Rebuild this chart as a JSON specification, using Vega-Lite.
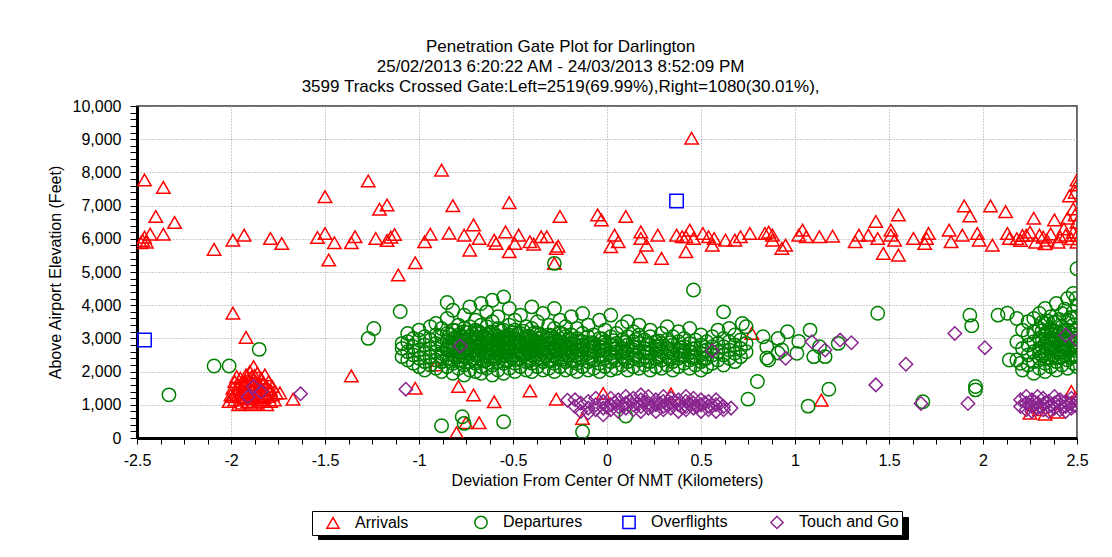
{
"$schema": "https://vega.github.io/schema/vega-lite/v6.json",
"width": 940, "height": 332,
"autosize": {"type": "none"},
"padding": {"left": 137, "top": 106, "right": 35, "bottom": 119},
"background": "white",
"title": {"text": ["Penetration Gate Plot for Darlington", "25/02/2013 6:20:22 AM - 24/03/2013 8:52:09 PM", "3599 Tracks Crossed Gate:Left=2519(69.99%),Right=1080(30.01%),"], "font": "Liberation Sans", "fontSize": 17, "fontWeight": "normal", "color": "black", "lineHeight": 20, "anchor": "middle", "frame": "bounds", "offset": 2, "dx": -7},
"data": {"values": [
{"x":-2.46,"y":7770,"type":"Arrivals"},{"x":-2.36,"y":7550,"type":"Arrivals"},{"x":-2.40,"y":6670,"type":"Arrivals"},{"x":-2.30,"y":6490,"type":"Arrivals"},{"x":-2.43,"y":6140,"type":"Arrivals"},{"x":-2.36,"y":6140,"type":"Arrivals"},{"x":-2.47,"y":5950,"type":"Arrivals"},{"x":-2.46,"y":6050,"type":"Arrivals"},{"x":-2.48,"y":5880,"type":"Arrivals"},{"x":-2.45,"y":5900,"type":"Arrivals"},
{"x":-2.09,"y":5680,"type":"Arrivals"},{"x":-1.99,"y":5960,"type":"Arrivals"},{"x":-1.93,"y":6110,"type":"Arrivals"},{"x":-1.79,"y":6010,"type":"Arrivals"},{"x":-1.73,"y":5860,"type":"Arrivals"},{"x":-1.54,"y":6040,"type":"Arrivals"},{"x":-1.50,"y":6160,"type":"Arrivals"},{"x":-1.50,"y":7270,"type":"Arrivals"},{"x":-1.48,"y":5360,"type":"Arrivals"},{"x":-1.45,"y":5880,"type":"Arrivals"},
{"x":-1.36,"y":5880,"type":"Arrivals"},{"x":-1.34,"y":6060,"type":"Arrivals"},{"x":-1.27,"y":7740,"type":"Arrivals"},{"x":-1.23,"y":6010,"type":"Arrivals"},{"x":-1.21,"y":6890,"type":"Arrivals"},{"x":-1.17,"y":7020,"type":"Arrivals"},{"x":-1.17,"y":5950,"type":"Arrivals"},{"x":-1.15,"y":6050,"type":"Arrivals"},{"x":-1.13,"y":6130,"type":"Arrivals"},{"x":-1.11,"y":4910,"type":"Arrivals"},
{"x":-1.02,"y":5280,"type":"Arrivals"},{"x":-0.97,"y":5910,"type":"Arrivals"},{"x":-0.94,"y":6140,"type":"Arrivals"},{"x":-0.88,"y":8070,"type":"Arrivals"},{"x":-0.84,"y":6170,"type":"Arrivals"},{"x":-0.82,"y":7000,"type":"Arrivals"},{"x":-0.76,"y":6110,"type":"Arrivals"},{"x":-0.71,"y":6420,"type":"Arrivals"},{"x":-0.68,"y":6010,"type":"Arrivals"},{"x":-0.73,"y":5660,"type":"Arrivals"},
{"x":-0.60,"y":5960,"type":"Arrivals"},{"x":-0.59,"y":5860,"type":"Arrivals"},{"x":-0.54,"y":6210,"type":"Arrivals"},{"x":-0.52,"y":5610,"type":"Arrivals"},{"x":-0.52,"y":7090,"type":"Arrivals"},{"x":-0.47,"y":6110,"type":"Arrivals"},{"x":-0.49,"y":5860,"type":"Arrivals"},{"x":-0.41,"y":5910,"type":"Arrivals"},{"x":-0.39,"y":5840,"type":"Arrivals"},{"x":-0.35,"y":6060,"type":"Arrivals"},
{"x":-0.32,"y":6060,"type":"Arrivals"},{"x":-0.25,"y":6670,"type":"Arrivals"},{"x":-0.27,"y":5710,"type":"Arrivals"},{"x":-0.26,"y":5780,"type":"Arrivals"},{"x":-0.28,"y":5260,"type":"Arrivals"},{"x":-0.05,"y":6720,"type":"Arrivals"},{"x":-0.03,"y":6570,"type":"Arrivals"},{"x":0.10,"y":6670,"type":"Arrivals"},{"x":0.04,"y":6110,"type":"Arrivals"},{"x":0.06,"y":5910,"type":"Arrivals"},
{"x":0.02,"y":5760,"type":"Arrivals"},{"x":0.18,"y":6210,"type":"Arrivals"},{"x":0.18,"y":6010,"type":"Arrivals"},{"x":0.21,"y":5810,"type":"Arrivals"},{"x":0.18,"y":5460,"type":"Arrivals"},{"x":0.27,"y":6110,"type":"Arrivals"},{"x":0.29,"y":5410,"type":"Arrivals"},{"x":0.45,"y":9030,"type":"Arrivals"},{"x":0.37,"y":6110,"type":"Arrivals"},{"x":0.40,"y":6060,"type":"Arrivals"},
{"x":0.44,"y":6260,"type":"Arrivals"},{"x":0.42,"y":6060,"type":"Arrivals"},{"x":0.42,"y":5610,"type":"Arrivals"},{"x":0.46,"y":6010,"type":"Arrivals"},{"x":0.51,"y":6160,"type":"Arrivals"},{"x":0.54,"y":6060,"type":"Arrivals"},{"x":0.57,"y":6010,"type":"Arrivals"},{"x":0.63,"y":5960,"type":"Arrivals"},{"x":0.56,"y":5810,"type":"Arrivals"},{"x":0.68,"y":5960,"type":"Arrivals"},
{"x":0.71,"y":6060,"type":"Arrivals"},{"x":0.76,"y":6160,"type":"Arrivals"},{"x":0.84,"y":6160,"type":"Arrivals"},{"x":0.88,"y":6110,"type":"Arrivals"},{"x":0.88,"y":5960,"type":"Arrivals"},{"x":0.93,"y":5710,"type":"Arrivals"},{"x":0.95,"y":5810,"type":"Arrivals"},{"x":0.86,"y":6200,"type":"Arrivals"},{"x":1.02,"y":6110,"type":"Arrivals"},{"x":1.04,"y":6260,"type":"Arrivals"},
{"x":1.06,"y":6060,"type":"Arrivals"},{"x":1.13,"y":6060,"type":"Arrivals"},{"x":1.20,"y":6080,"type":"Arrivals"},{"x":1.32,"y":5910,"type":"Arrivals"},{"x":1.34,"y":6110,"type":"Arrivals"},{"x":1.39,"y":6110,"type":"Arrivals"},{"x":1.43,"y":6520,"type":"Arrivals"},{"x":1.44,"y":6010,"type":"Arrivals"},{"x":1.51,"y":6260,"type":"Arrivals"},{"x":1.51,"y":6110,"type":"Arrivals"},
{"x":1.55,"y":6720,"type":"Arrivals"},{"x":1.53,"y":5960,"type":"Arrivals"},{"x":1.47,"y":5560,"type":"Arrivals"},{"x":1.55,"y":5510,"type":"Arrivals"},{"x":1.63,"y":6010,"type":"Arrivals"},{"x":1.69,"y":5860,"type":"Arrivals"},{"x":1.71,"y":6160,"type":"Arrivals"},{"x":1.70,"y":6010,"type":"Arrivals"},{"x":1.82,"y":6260,"type":"Arrivals"},{"x":1.83,"y":5910,"type":"Arrivals"},
{"x":1.89,"y":6110,"type":"Arrivals"},{"x":1.90,"y":6990,"type":"Arrivals"},{"x":1.93,"y":6690,"type":"Arrivals"},{"x":1.97,"y":6160,"type":"Arrivals"},{"x":1.98,"y":5960,"type":"Arrivals"},{"x":2.04,"y":6990,"type":"Arrivals"},{"x":2.05,"y":5810,"type":"Arrivals"},{"x":2.12,"y":6820,"type":"Arrivals"},{"x":2.13,"y":6160,"type":"Arrivals"},{"x":2.14,"y":6010,"type":"Arrivals"},
{"x":2.18,"y":6000,"type":"Arrivals"},{"x":2.20,"y":5950,"type":"Arrivals"},{"x":2.21,"y":6100,"type":"Arrivals"},{"x":2.23,"y":6110,"type":"Arrivals"},{"x":2.25,"y":6200,"type":"Arrivals"},{"x":2.27,"y":6620,"type":"Arrivals"},{"x":2.28,"y":5900,"type":"Arrivals"},{"x":2.30,"y":6110,"type":"Arrivals"},{"x":2.32,"y":6050,"type":"Arrivals"},{"x":2.33,"y":5850,"type":"Arrivals"},
{"x":2.34,"y":5960,"type":"Arrivals"},{"x":2.36,"y":6150,"type":"Arrivals"},{"x":2.38,"y":6570,"type":"Arrivals"},{"x":2.40,"y":5900,"type":"Arrivals"},{"x":2.41,"y":6060,"type":"Arrivals"},{"x":2.43,"y":6300,"type":"Arrivals"},{"x":2.44,"y":6110,"type":"Arrivals"},{"x":2.45,"y":6620,"type":"Arrivals"},{"x":2.46,"y":7290,"type":"Arrivals"},{"x":2.47,"y":6000,"type":"Arrivals"},
{"x":2.48,"y":6200,"type":"Arrivals"},{"x":2.49,"y":6720,"type":"Arrivals"},{"x":2.50,"y":7620,"type":"Arrivals"},{"x":2.50,"y":7770,"type":"Arrivals"},{"x":2.49,"y":7400,"type":"Arrivals"},{"x":2.50,"y":6100,"type":"Arrivals"},{"x":2.50,"y":5900,"type":"Arrivals"},{"x":2.50,"y":6500,"type":"Arrivals"},{"x":2.48,"y":6900,"type":"Arrivals"},
{"x":-1.99,"y":3760,"type":"Arrivals"},{"x":-1.92,"y":3030,"type":"Arrivals"},{"x":-1.74,"y":1360,"type":"Arrivals"},{"x":-1.67,"y":1170,"type":"Arrivals"},{"x":-1.36,"y":1870,"type":"Arrivals"},{"x":-1.02,"y":1500,"type":"Arrivals"},{"x":-0.91,"y":2200,"type":"Arrivals"},{"x":-0.79,"y":1550,"type":"Arrivals"},{"x":-0.71,"y":1300,"type":"Arrivals"},{"x":-0.60,"y":1090,"type":"Arrivals"},
{"x":-0.41,"y":1420,"type":"Arrivals"},{"x":-0.27,"y":1170,"type":"Arrivals"},{"x":-0.80,"y":160,"type":"Arrivals"},{"x":-0.75,"y":460,"type":"Arrivals"},{"x":-0.68,"y":460,"type":"Arrivals"},{"x":-0.13,"y":590,"type":"Arrivals"},{"x":-0.02,"y":1340,"type":"Arrivals"},{"x":0.34,"y":1330,"type":"Arrivals"},{"x":0.77,"y":3150,"type":"Arrivals"},{"x":1.14,"y":1140,"type":"Arrivals"},
{"x":2.25,"y":750,"type":"Arrivals"},{"x":2.33,"y":720,"type":"Arrivals"},{"x":2.40,"y":780,"type":"Arrivals"},{"x":2.47,"y":1400,"type":"Arrivals"},{"x":2.49,"y":1200,"type":"Arrivals"},{"x":2.30,"y":850,"type":"Arrivals"},
{"x":-2.01,"y":1100,"type":"Arrivals"},{"x":-2.00,"y":1300,"type":"Arrivals"},{"x":-1.99,"y":1500,"type":"Arrivals"},{"x":-1.98,"y":1700,"type":"Arrivals"},{"x":-1.98,"y":1150,"type":"Arrivals"},{"x":-1.97,"y":1350,"type":"Arrivals"},{"x":-1.96,"y":1600,"type":"Arrivals"},{"x":-1.96,"y":1000,"type":"Arrivals"},{"x":-1.95,"y":1250,"type":"Arrivals"},{"x":-1.95,"y":1800,"type":"Arrivals"},
{"x":-1.94,"y":1450,"type":"Arrivals"},{"x":-1.94,"y":1050,"type":"Arrivals"},{"x":-1.93,"y":1650,"type":"Arrivals"},{"x":-1.93,"y":1200,"type":"Arrivals"},{"x":-1.92,"y":1900,"type":"Arrivals"},{"x":-1.92,"y":1400,"type":"Arrivals"},{"x":-1.91,"y":1100,"type":"Arrivals"},{"x":-1.91,"y":1750,"type":"Arrivals"},{"x":-1.90,"y":1550,"type":"Arrivals"},{"x":-1.90,"y":1300,"type":"Arrivals"},
{"x":-1.90,"y":2000,"type":"Arrivals"},{"x":-1.89,"y":1000,"type":"Arrivals"},{"x":-1.89,"y":1850,"type":"Arrivals"},{"x":-1.88,"y":1450,"type":"Arrivals"},{"x":-1.88,"y":2150,"type":"Arrivals"},{"x":-1.88,"y":1200,"type":"Arrivals"},{"x":-1.87,"y":1700,"type":"Arrivals"},{"x":-1.87,"y":1350,"type":"Arrivals"},{"x":-1.86,"y":1950,"type":"Arrivals"},{"x":-1.86,"y":1050,"type":"Arrivals"},
{"x":-1.85,"y":1600,"type":"Arrivals"},{"x":-1.85,"y":1250,"type":"Arrivals"},{"x":-1.84,"y":1800,"type":"Arrivals"},{"x":-1.84,"y":1450,"type":"Arrivals"},{"x":-1.83,"y":1100,"type":"Arrivals"},{"x":-1.83,"y":1650,"type":"Arrivals"},{"x":-1.82,"y":1350,"type":"Arrivals"},{"x":-1.82,"y":1900,"type":"Arrivals"},{"x":-1.81,"y":1550,"type":"Arrivals"},{"x":-1.81,"y":1000,"type":"Arrivals"},
{"x":-1.80,"y":1250,"type":"Arrivals"},{"x":-1.80,"y":1700,"type":"Arrivals"},{"x":-1.79,"y":1450,"type":"Arrivals"},{"x":-1.79,"y":1100,"type":"Arrivals"},{"x":-1.78,"y":1300,"type":"Arrivals"},{"x":-1.78,"y":1550,"type":"Arrivals"},{"x":-1.77,"y":1150,"type":"Arrivals"},{"x":-1.76,"y":1350,"type":"Arrivals"},{"x":-1.97,"y":1850,"type":"Arrivals"},{"x":-1.93,"y":1550,"type":"Arrivals"},
{"x":-1.87,"y":1550,"type":"Arrivals"},{"x":-1.84,"y":1150,"type":"Arrivals"},{"x":-1.89,"y":1700,"type":"Arrivals"},{"x":-1.95,"y":1400,"type":"Arrivals"},{"x":-1.99,"y":1250,"type":"Arrivals"},
{"x":-1.965,"y":1480,"type":"Arrivals"},{"x":-1.945,"y":1320,"type":"Arrivals"},{"x":-1.925,"y":1730,"type":"Arrivals"},{"x":-1.905,"y":1180,"type":"Arrivals"},{"x":-1.885,"y":1620,"type":"Arrivals"},{"x":-1.865,"y":1280,"type":"Arrivals"},{"x":-1.845,"y":1560,"type":"Arrivals"},{"x":-1.825,"y":1220,"type":"Arrivals"},{"x":-1.805,"y":1480,"type":"Arrivals"},{"x":-1.875,"y":1880,"type":"Arrivals"},

{"x":-2.33,"y":1300,"type":"Departures"},{"x":-2.09,"y":2170,"type":"Departures"},{"x":-2.01,"y":2170,"type":"Departures"},{"x":-1.85,"y":2670,"type":"Departures"},{"x":-1.27,"y":3000,"type":"Departures"},{"x":-1.24,"y":3300,"type":"Departures"},{"x":-1.10,"y":3810,"type":"Departures"},{"x":-0.85,"y":4080,"type":"Departures"},{"x":-0.88,"y":370,"type":"Departures"},{"x":-0.77,"y":640,"type":"Departures"},
{"x":-0.76,"y":440,"type":"Departures"},{"x":-0.55,"y":490,"type":"Departures"},{"x":-0.13,"y":190,"type":"Departures"},{"x":0.10,"y":660,"type":"Departures"},{"x":0.46,"y":4460,"type":"Departures"},{"x":0.62,"y":3800,"type":"Departures"},{"x":0.72,"y":3450,"type":"Departures"},{"x":0.80,"y":1700,"type":"Departures"},{"x":0.75,"y":1170,"type":"Departures"},{"x":0.85,"y":2410,"type":"Departures"},
{"x":0.85,"y":2750,"type":"Departures"},{"x":0.91,"y":2560,"type":"Departures"},{"x":-0.28,"y":5260,"type":"Departures"},{"x":0.83,"y":3050,"type":"Departures"},{"x":0.86,"y":2350,"type":"Departures"},{"x":0.91,"y":3000,"type":"Departures"},{"x":0.93,"y":2650,"type":"Departures"},{"x":0.96,"y":3200,"type":"Departures"},{"x":1.01,"y":2550,"type":"Departures"},{"x":1.02,"y":2910,"type":"Departures"},
{"x":1.08,"y":3250,"type":"Departures"},{"x":1.10,"y":2450,"type":"Departures"},{"x":1.13,"y":2750,"type":"Departures"},{"x":1.16,"y":2450,"type":"Departures"},{"x":1.23,"y":2850,"type":"Departures"},{"x":1.07,"y":960,"type":"Departures"},{"x":1.18,"y":1470,"type":"Departures"},{"x":1.44,"y":3760,"type":"Departures"},{"x":1.68,"y":1090,"type":"Departures"},{"x":1.96,"y":1550,"type":"Departures"},
{"x":1.96,"y":1450,"type":"Departures"},{"x":1.93,"y":3700,"type":"Departures"},{"x":1.94,"y":3380,"type":"Departures"},{"x":2.08,"y":3700,"type":"Departures"},{"x":2.13,"y":3760,"type":"Departures"},{"x":2.18,"y":3600,"type":"Departures"},{"x":2.21,"y":3250,"type":"Departures"},{"x":2.18,"y":2900,"type":"Departures"},{"x":2.18,"y":2350,"type":"Departures"},{"x":2.20,"y":2250,"type":"Departures"},
{"x":2.50,"y":5100,"type":"Departures"},{"x":2.14,"y":2350,"type":"Departures"},{"x":2.21,"y":2700,"type":"Departures"},{"x":2.21,"y":2050,"type":"Departures"},
{"x":-1.09,"y":2450,"type":"Departures"},{"x":-1.09,"y":2700,"type":"Departures"},{"x":-1.09,"y":2850,"type":"Departures"},
{"x":-1.06,"y":2350,"type":"Departures"},{"x":-1.06,"y":2600,"type":"Departures"},{"x":-1.06,"y":2900,"type":"Departures"},{"x":-1.06,"y":3150,"type":"Departures"},
{"x":-1.03,"y":2250,"type":"Departures"},{"x":-1.03,"y":2500,"type":"Departures"},{"x":-1.03,"y":2750,"type":"Departures"},{"x":-1.03,"y":3000,"type":"Departures"},
{"x":-1.00,"y":2150,"type":"Departures"},{"x":-1.00,"y":2400,"type":"Departures"},{"x":-1.00,"y":2650,"type":"Departures"},{"x":-1.00,"y":2950,"type":"Departures"},{"x":-1.00,"y":3250,"type":"Departures"},
{"x":-0.97,"y":2300,"type":"Departures"},{"x":-0.97,"y":2550,"type":"Departures"},{"x":-0.97,"y":2800,"type":"Departures"},{"x":-0.97,"y":3050,"type":"Departures"},{"x":-0.97,"y":2050,"type":"Departures"},
{"x":-0.94,"y":2200,"type":"Departures"},{"x":-0.94,"y":2450,"type":"Departures"},{"x":-0.94,"y":2700,"type":"Departures"},{"x":-0.94,"y":2950,"type":"Departures"},{"x":-0.94,"y":3350,"type":"Departures"},
{"x":-0.91,"y":2100,"type":"Departures"},{"x":-0.91,"y":2350,"type":"Departures"},{"x":-0.91,"y":2600,"type":"Departures"},{"x":-0.91,"y":2850,"type":"Departures"},{"x":-0.91,"y":3100,"type":"Departures"},{"x":-0.91,"y":3450,"type":"Departures"},
{"x":-0.88,"y":2000,"type":"Departures"},{"x":-0.88,"y":2300,"type":"Departures"},{"x":-0.88,"y":2550,"type":"Departures"},{"x":-0.88,"y":2800,"type":"Departures"},{"x":-0.88,"y":3050,"type":"Departures"},{"x":-0.88,"y":3300,"type":"Departures"},{"x":-0.88,"y":2450,"type":"Departures"},
{"x":-0.85,"y":2150,"type":"Departures"},{"x":-0.85,"y":2400,"type":"Departures"},{"x":-0.85,"y":2650,"type":"Departures"},{"x":-0.85,"y":2900,"type":"Departures"},{"x":-0.85,"y":3150,"type":"Departures"},{"x":-0.85,"y":3600,"type":"Departures"},{"x":-0.85,"y":2700,"type":"Departures"},
{"x":-0.82,"y":1950,"type":"Departures"},{"x":-0.82,"y":2250,"type":"Departures"},{"x":-0.82,"y":2500,"type":"Departures"},{"x":-0.82,"y":2750,"type":"Departures"},{"x":-0.82,"y":3000,"type":"Departures"},{"x":-0.82,"y":3250,"type":"Departures"},{"x":-0.82,"y":3850,"type":"Departures"},{"x":-0.82,"y":2850,"type":"Departures"},
{"x":-0.79,"y":2100,"type":"Departures"},{"x":-0.79,"y":2350,"type":"Departures"},{"x":-0.79,"y":2600,"type":"Departures"},{"x":-0.79,"y":2850,"type":"Departures"},{"x":-0.79,"y":3100,"type":"Departures"},{"x":-0.79,"y":3400,"type":"Departures"},{"x":-0.79,"y":2450,"type":"Departures"},{"x":-0.79,"y":2950,"type":"Departures"},
{"x":-0.76,"y":1900,"type":"Departures"},{"x":-0.76,"y":2200,"type":"Departures"},{"x":-0.76,"y":2450,"type":"Departures"},{"x":-0.76,"y":2700,"type":"Departures"},{"x":-0.76,"y":2950,"type":"Departures"},{"x":-0.76,"y":3200,"type":"Departures"},{"x":-0.76,"y":3700,"type":"Departures"},{"x":-0.76,"y":2600,"type":"Departures"},{"x":-0.76,"y":3300,"type":"Departures"},
{"x":-0.73,"y":2050,"type":"Departures"},{"x":-0.73,"y":2300,"type":"Departures"},{"x":-0.73,"y":2550,"type":"Departures"},{"x":-0.73,"y":2800,"type":"Departures"},{"x":-0.73,"y":3050,"type":"Departures"},{"x":-0.73,"y":3350,"type":"Departures"},{"x":-0.73,"y":3950,"type":"Departures"},{"x":-0.73,"y":2700,"type":"Departures"},
{"x":-0.70,"y":2000,"type":"Departures"},{"x":-0.70,"y":2250,"type":"Departures"},{"x":-0.70,"y":2500,"type":"Departures"},{"x":-0.70,"y":2750,"type":"Departures"},{"x":-0.70,"y":3000,"type":"Departures"},{"x":-0.70,"y":3250,"type":"Departures"},{"x":-0.70,"y":3550,"type":"Departures"},{"x":-0.70,"y":2650,"type":"Departures"},{"x":-0.70,"y":2900,"type":"Departures"},
{"x":-0.67,"y":1950,"type":"Departures"},{"x":-0.67,"y":2150,"type":"Departures"},{"x":-0.67,"y":2400,"type":"Departures"},{"x":-0.67,"y":2650,"type":"Departures"},{"x":-0.67,"y":2900,"type":"Departures"},{"x":-0.67,"y":3150,"type":"Departures"},{"x":-0.67,"y":3400,"type":"Departures"},{"x":-0.67,"y":4050,"type":"Departures"},{"x":-0.67,"y":2800,"type":"Departures"},
{"x":-0.64,"y":2100,"type":"Departures"},{"x":-0.64,"y":2350,"type":"Departures"},{"x":-0.64,"y":2600,"type":"Departures"},{"x":-0.64,"y":2850,"type":"Departures"},{"x":-0.64,"y":3100,"type":"Departures"},{"x":-0.64,"y":3350,"type":"Departures"},{"x":-0.64,"y":3800,"type":"Departures"},{"x":-0.64,"y":2500,"type":"Departures"},{"x":-0.64,"y":3000,"type":"Departures"},
{"x":-0.61,"y":1900,"type":"Departures"},{"x":-0.61,"y":2200,"type":"Departures"},{"x":-0.61,"y":2450,"type":"Departures"},{"x":-0.61,"y":2700,"type":"Departures"},{"x":-0.61,"y":2950,"type":"Departures"},{"x":-0.61,"y":3200,"type":"Departures"},{"x":-0.61,"y":3500,"type":"Departures"},{"x":-0.61,"y":4150,"type":"Departures"},{"x":-0.61,"y":2800,"type":"Departures"},
{"x":-0.58,"y":2050,"type":"Departures"},{"x":-0.58,"y":2300,"type":"Departures"},{"x":-0.58,"y":2550,"type":"Departures"},{"x":-0.58,"y":2800,"type":"Departures"},{"x":-0.58,"y":3050,"type":"Departures"},{"x":-0.58,"y":3300,"type":"Departures"},{"x":-0.58,"y":3650,"type":"Departures"},{"x":-0.58,"y":2650,"type":"Departures"},{"x":-0.58,"y":2950,"type":"Departures"},
{"x":-0.55,"y":1950,"type":"Departures"},{"x":-0.55,"y":2250,"type":"Departures"},{"x":-0.55,"y":2500,"type":"Departures"},{"x":-0.55,"y":2750,"type":"Departures"},{"x":-0.55,"y":3000,"type":"Departures"},{"x":-0.55,"y":3250,"type":"Departures"},{"x":-0.55,"y":4250,"type":"Departures"},{"x":-0.55,"y":2600,"type":"Departures"},{"x":-0.55,"y":2850,"type":"Departures"},
{"x":-0.52,"y":2100,"type":"Departures"},{"x":-0.52,"y":2350,"type":"Departures"},{"x":-0.52,"y":2600,"type":"Departures"},{"x":-0.52,"y":2850,"type":"Departures"},{"x":-0.52,"y":3100,"type":"Departures"},{"x":-0.52,"y":3400,"type":"Departures"},{"x":-0.52,"y":3900,"type":"Departures"},{"x":-0.52,"y":2700,"type":"Departures"},{"x":-0.52,"y":3000,"type":"Departures"},
{"x":-0.49,"y":2000,"type":"Departures"},{"x":-0.49,"y":2250,"type":"Departures"},{"x":-0.49,"y":2500,"type":"Departures"},{"x":-0.49,"y":2750,"type":"Departures"},{"x":-0.49,"y":3000,"type":"Departures"},{"x":-0.49,"y":3250,"type":"Departures"},{"x":-0.49,"y":3550,"type":"Departures"},{"x":-0.49,"y":2900,"type":"Departures"},
{"x":-0.46,"y":2150,"type":"Departures"},{"x":-0.46,"y":2400,"type":"Departures"},{"x":-0.46,"y":2650,"type":"Departures"},{"x":-0.46,"y":2900,"type":"Departures"},{"x":-0.46,"y":3150,"type":"Departures"},{"x":-0.46,"y":3700,"type":"Departures"},{"x":-0.46,"y":2550,"type":"Departures"},{"x":-0.46,"y":2800,"type":"Departures"},
{"x":-0.43,"y":2050,"type":"Departures"},{"x":-0.43,"y":2300,"type":"Departures"},{"x":-0.43,"y":2550,"type":"Departures"},{"x":-0.43,"y":2800,"type":"Departures"},{"x":-0.43,"y":3050,"type":"Departures"},{"x":-0.43,"y":3350,"type":"Departures"},{"x":-0.43,"y":2700,"type":"Departures"},{"x":-0.43,"y":2950,"type":"Departures"},
{"x":-0.40,"y":2000,"type":"Departures"},{"x":-0.40,"y":2250,"type":"Departures"},{"x":-0.40,"y":2500,"type":"Departures"},{"x":-0.40,"y":2750,"type":"Departures"},{"x":-0.40,"y":3000,"type":"Departures"},{"x":-0.40,"y":3300,"type":"Departures"},{"x":-0.40,"y":3950,"type":"Departures"},{"x":-0.40,"y":2650,"type":"Departures"},
{"x":-0.37,"y":2150,"type":"Departures"},{"x":-0.37,"y":2400,"type":"Departures"},{"x":-0.37,"y":2650,"type":"Departures"},{"x":-0.37,"y":2900,"type":"Departures"},{"x":-0.37,"y":3150,"type":"Departures"},{"x":-0.37,"y":3500,"type":"Departures"},{"x":-0.37,"y":2800,"type":"Departures"},{"x":-0.37,"y":3000,"type":"Departures"},
{"x":-0.34,"y":2050,"type":"Departures"},{"x":-0.34,"y":2300,"type":"Departures"},{"x":-0.34,"y":2550,"type":"Departures"},{"x":-0.34,"y":2800,"type":"Departures"},{"x":-0.34,"y":3050,"type":"Departures"},{"x":-0.34,"y":3750,"type":"Departures"},{"x":-0.34,"y":2700,"type":"Departures"},
{"x":-0.31,"y":2100,"type":"Departures"},{"x":-0.31,"y":2350,"type":"Departures"},{"x":-0.31,"y":2600,"type":"Departures"},{"x":-0.31,"y":2850,"type":"Departures"},{"x":-0.31,"y":3100,"type":"Departures"},{"x":-0.31,"y":3400,"type":"Departures"},{"x":-0.31,"y":2950,"type":"Departures"},
{"x":-0.28,"y":2000,"type":"Departures"},{"x":-0.28,"y":2250,"type":"Departures"},{"x":-0.28,"y":2500,"type":"Departures"},{"x":-0.28,"y":2750,"type":"Departures"},{"x":-0.28,"y":3000,"type":"Departures"},{"x":-0.28,"y":3300,"type":"Departures"},{"x":-0.28,"y":3900,"type":"Departures"},{"x":-0.28,"y":2650,"type":"Departures"},
{"x":-0.25,"y":2150,"type":"Departures"},{"x":-0.25,"y":2400,"type":"Departures"},{"x":-0.25,"y":2650,"type":"Departures"},{"x":-0.25,"y":2900,"type":"Departures"},{"x":-0.25,"y":3150,"type":"Departures"},{"x":-0.25,"y":2800,"type":"Departures"},{"x":-0.25,"y":3550,"type":"Departures"},
{"x":-0.22,"y":2050,"type":"Departures"},{"x":-0.22,"y":2300,"type":"Departures"},{"x":-0.22,"y":2550,"type":"Departures"},{"x":-0.22,"y":2800,"type":"Departures"},{"x":-0.22,"y":3050,"type":"Departures"},{"x":-0.22,"y":3350,"type":"Departures"},{"x":-0.22,"y":2700,"type":"Departures"},
{"x":-0.19,"y":2100,"type":"Departures"},{"x":-0.19,"y":2350,"type":"Departures"},{"x":-0.19,"y":2600,"type":"Departures"},{"x":-0.19,"y":2850,"type":"Departures"},{"x":-0.19,"y":3100,"type":"Departures"},{"x":-0.19,"y":3650,"type":"Departures"},{"x":-0.19,"y":2950,"type":"Departures"},
{"x":-0.16,"y":2000,"type":"Departures"},{"x":-0.16,"y":2250,"type":"Departures"},{"x":-0.16,"y":2500,"type":"Departures"},{"x":-0.16,"y":2750,"type":"Departures"},{"x":-0.16,"y":3000,"type":"Departures"},{"x":-0.16,"y":3300,"type":"Departures"},{"x":-0.16,"y":2650,"type":"Departures"},
{"x":-0.13,"y":2150,"type":"Departures"},{"x":-0.13,"y":2400,"type":"Departures"},{"x":-0.13,"y":2650,"type":"Departures"},{"x":-0.13,"y":2900,"type":"Departures"},{"x":-0.13,"y":3150,"type":"Departures"},{"x":-0.13,"y":3750,"type":"Departures"},{"x":-0.13,"y":2800,"type":"Departures"},
{"x":-0.10,"y":2050,"type":"Departures"},{"x":-0.10,"y":2300,"type":"Departures"},{"x":-0.10,"y":2550,"type":"Departures"},{"x":-0.10,"y":2800,"type":"Departures"},{"x":-0.10,"y":3050,"type":"Departures"},{"x":-0.10,"y":3400,"type":"Departures"},
{"x":-0.07,"y":2100,"type":"Departures"},{"x":-0.07,"y":2350,"type":"Departures"},{"x":-0.07,"y":2600,"type":"Departures"},{"x":-0.07,"y":2850,"type":"Departures"},{"x":-0.07,"y":3100,"type":"Departures"},{"x":-0.07,"y":2750,"type":"Departures"},
{"x":-0.04,"y":2000,"type":"Departures"},{"x":-0.04,"y":2250,"type":"Departures"},{"x":-0.04,"y":2500,"type":"Departures"},{"x":-0.04,"y":2750,"type":"Departures"},{"x":-0.04,"y":3000,"type":"Departures"},{"x":-0.04,"y":3550,"type":"Departures"},{"x":-0.04,"y":2650,"type":"Departures"},
{"x":-0.01,"y":2150,"type":"Departures"},{"x":-0.01,"y":2400,"type":"Departures"},{"x":-0.01,"y":2650,"type":"Departures"},{"x":-0.01,"y":2900,"type":"Departures"},{"x":-0.01,"y":3250,"type":"Departures"},{"x":-0.01,"y":2800,"type":"Departures"},
{"x":0.02,"y":2050,"type":"Departures"},{"x":0.02,"y":2300,"type":"Departures"},{"x":0.02,"y":2550,"type":"Departures"},{"x":0.02,"y":2800,"type":"Departures"},{"x":0.02,"y":3050,"type":"Departures"},{"x":0.02,"y":3700,"type":"Departures"},
{"x":0.05,"y":2100,"type":"Departures"},{"x":0.05,"y":2350,"type":"Departures"},{"x":0.05,"y":2600,"type":"Departures"},{"x":0.05,"y":2850,"type":"Departures"},{"x":0.05,"y":3150,"type":"Departures"},{"x":0.05,"y":2700,"type":"Departures"},
{"x":0.08,"y":2200,"type":"Departures"},{"x":0.08,"y":2450,"type":"Departures"},{"x":0.08,"y":2700,"type":"Departures"},{"x":0.08,"y":2950,"type":"Departures"},{"x":0.08,"y":3350,"type":"Departures"},{"x":0.08,"y":2600,"type":"Departures"},
{"x":0.11,"y":2050,"type":"Departures"},{"x":0.11,"y":2300,"type":"Departures"},{"x":0.11,"y":2550,"type":"Departures"},{"x":0.11,"y":2800,"type":"Departures"},{"x":0.11,"y":3050,"type":"Departures"},{"x":0.11,"y":3500,"type":"Departures"},
{"x":0.14,"y":2150,"type":"Departures"},{"x":0.14,"y":2400,"type":"Departures"},{"x":0.14,"y":2650,"type":"Departures"},{"x":0.14,"y":2900,"type":"Departures"},{"x":0.14,"y":3200,"type":"Departures"},{"x":0.14,"y":2750,"type":"Departures"},
{"x":0.17,"y":2100,"type":"Departures"},{"x":0.17,"y":2350,"type":"Departures"},{"x":0.17,"y":2600,"type":"Departures"},{"x":0.17,"y":2850,"type":"Departures"},{"x":0.17,"y":3100,"type":"Departures"},{"x":0.17,"y":3400,"type":"Departures"},
{"x":0.20,"y":2200,"type":"Departures"},{"x":0.20,"y":2450,"type":"Departures"},{"x":0.20,"y":2700,"type":"Departures"},{"x":0.20,"y":2950,"type":"Departures"},{"x":0.20,"y":2600,"type":"Departures"},
{"x":0.23,"y":2050,"type":"Departures"},{"x":0.23,"y":2300,"type":"Departures"},{"x":0.23,"y":2550,"type":"Departures"},{"x":0.23,"y":2800,"type":"Departures"},{"x":0.23,"y":3050,"type":"Departures"},{"x":0.23,"y":3250,"type":"Departures"},
{"x":0.26,"y":2150,"type":"Departures"},{"x":0.26,"y":2400,"type":"Departures"},{"x":0.26,"y":2650,"type":"Departures"},{"x":0.26,"y":2900,"type":"Departures"},{"x":0.26,"y":2750,"type":"Departures"},
{"x":0.29,"y":2100,"type":"Departures"},{"x":0.29,"y":2350,"type":"Departures"},{"x":0.29,"y":2600,"type":"Departures"},{"x":0.29,"y":2850,"type":"Departures"},{"x":0.29,"y":3150,"type":"Departures"},
{"x":0.32,"y":2200,"type":"Departures"},{"x":0.32,"y":2450,"type":"Departures"},{"x":0.32,"y":2700,"type":"Departures"},{"x":0.32,"y":2950,"type":"Departures"},{"x":0.32,"y":3350,"type":"Departures"},
{"x":0.35,"y":2050,"type":"Departures"},{"x":0.35,"y":2300,"type":"Departures"},{"x":0.35,"y":2550,"type":"Departures"},{"x":0.35,"y":2800,"type":"Departures"},{"x":0.35,"y":3050,"type":"Departures"},
{"x":0.38,"y":2150,"type":"Departures"},{"x":0.38,"y":2400,"type":"Departures"},{"x":0.38,"y":2650,"type":"Departures"},{"x":0.38,"y":2900,"type":"Departures"},{"x":0.38,"y":3200,"type":"Departures"},
{"x":0.41,"y":2250,"type":"Departures"},{"x":0.41,"y":2500,"type":"Departures"},{"x":0.41,"y":2750,"type":"Departures"},{"x":0.41,"y":3000,"type":"Departures"},{"x":0.41,"y":2600,"type":"Departures"},
{"x":0.44,"y":2100,"type":"Departures"},{"x":0.44,"y":2350,"type":"Departures"},{"x":0.44,"y":2600,"type":"Departures"},{"x":0.44,"y":2850,"type":"Departures"},{"x":0.44,"y":3300,"type":"Departures"},
{"x":0.47,"y":2200,"type":"Departures"},{"x":0.47,"y":2450,"type":"Departures"},{"x":0.47,"y":2700,"type":"Departures"},{"x":0.47,"y":2950,"type":"Departures"},
{"x":0.50,"y":2300,"type":"Departures"},{"x":0.50,"y":2550,"type":"Departures"},{"x":0.50,"y":2800,"type":"Departures"},{"x":0.50,"y":3100,"type":"Departures"},{"x":0.50,"y":2050,"type":"Departures"},
{"x":0.53,"y":2150,"type":"Departures"},{"x":0.53,"y":2400,"type":"Departures"},{"x":0.53,"y":2650,"type":"Departures"},{"x":0.53,"y":2900,"type":"Departures"},
{"x":0.56,"y":2250,"type":"Departures"},{"x":0.56,"y":2500,"type":"Departures"},{"x":0.56,"y":2750,"type":"Departures"},{"x":0.56,"y":3050,"type":"Departures"},
{"x":0.59,"y":2350,"type":"Departures"},{"x":0.59,"y":2600,"type":"Departures"},{"x":0.59,"y":2850,"type":"Departures"},{"x":0.59,"y":3250,"type":"Departures"},
{"x":0.62,"y":2200,"type":"Departures"},{"x":0.62,"y":2500,"type":"Departures"},{"x":0.62,"y":2750,"type":"Departures"},{"x":0.62,"y":3000,"type":"Departures"},
{"x":0.65,"y":2400,"type":"Departures"},{"x":0.65,"y":2650,"type":"Departures"},{"x":0.65,"y":2900,"type":"Departures"},{"x":0.65,"y":3300,"type":"Departures"},
{"x":0.68,"y":2300,"type":"Departures"},{"x":0.68,"y":2550,"type":"Departures"},{"x":0.68,"y":2800,"type":"Departures"},{"x":0.68,"y":3100,"type":"Departures"},
{"x":0.71,"y":2450,"type":"Departures"},{"x":0.71,"y":2700,"type":"Departures"},{"x":0.71,"y":2950,"type":"Departures"},
{"x":0.74,"y":2600,"type":"Departures"},{"x":0.74,"y":2850,"type":"Departures"},{"x":0.74,"y":3350,"type":"Departures"},
{"x":-0.835,"y":2380,"type":"Departures"},{"x":-0.835,"y":2630,"type":"Departures"},{"x":-0.835,"y":2870,"type":"Departures"},{"x":-0.835,"y":3120,"type":"Departures"},
{"x":-0.805,"y":2470,"type":"Departures"},{"x":-0.805,"y":2720,"type":"Departures"},{"x":-0.805,"y":2980,"type":"Departures"},{"x":-0.805,"y":3230,"type":"Departures"},
{"x":-0.775,"y":2330,"type":"Departures"},{"x":-0.775,"y":2580,"type":"Departures"},{"x":-0.775,"y":2830,"type":"Departures"},{"x":-0.775,"y":3080,"type":"Departures"},
{"x":-0.745,"y":2420,"type":"Departures"},{"x":-0.745,"y":2680,"type":"Departures"},{"x":-0.745,"y":2930,"type":"Departures"},{"x":-0.745,"y":3180,"type":"Departures"},
{"x":-0.715,"y":2370,"type":"Departures"},{"x":-0.715,"y":2620,"type":"Departures"},{"x":-0.715,"y":2880,"type":"Departures"},{"x":-0.715,"y":3130,"type":"Departures"},
{"x":-0.685,"y":2480,"type":"Departures"},{"x":-0.685,"y":2730,"type":"Departures"},{"x":-0.685,"y":2970,"type":"Departures"},{"x":-0.685,"y":3220,"type":"Departures"},
{"x":-0.655,"y":2320,"type":"Departures"},{"x":-0.655,"y":2570,"type":"Departures"},{"x":-0.655,"y":2820,"type":"Departures"},{"x":-0.655,"y":3070,"type":"Departures"},
{"x":-0.625,"y":2430,"type":"Departures"},{"x":-0.625,"y":2670,"type":"Departures"},{"x":-0.625,"y":2920,"type":"Departures"},{"x":-0.625,"y":3170,"type":"Departures"},
{"x":-0.595,"y":2380,"type":"Departures"},{"x":-0.595,"y":2630,"type":"Departures"},{"x":-0.595,"y":2870,"type":"Departures"},{"x":-0.595,"y":3120,"type":"Departures"},
{"x":-0.565,"y":2470,"type":"Departures"},{"x":-0.565,"y":2720,"type":"Departures"},{"x":-0.565,"y":2980,"type":"Departures"},{"x":-0.565,"y":3230,"type":"Departures"},
{"x":-0.535,"y":2330,"type":"Departures"},{"x":-0.535,"y":2580,"type":"Departures"},{"x":-0.535,"y":2830,"type":"Departures"},{"x":-0.535,"y":3080,"type":"Departures"},
{"x":-0.505,"y":2420,"type":"Departures"},{"x":-0.505,"y":2680,"type":"Departures"},{"x":-0.505,"y":2930,"type":"Departures"},{"x":-0.505,"y":3180,"type":"Departures"},
{"x":-0.475,"y":2370,"type":"Departures"},{"x":-0.475,"y":2620,"type":"Departures"},{"x":-0.475,"y":2880,"type":"Departures"},{"x":-0.475,"y":3130,"type":"Departures"},
{"x":-0.445,"y":2480,"type":"Departures"},{"x":-0.445,"y":2730,"type":"Departures"},{"x":-0.445,"y":2970,"type":"Departures"},{"x":-0.445,"y":3220,"type":"Departures"},
{"x":-0.415,"y":2320,"type":"Departures"},{"x":-0.415,"y":2570,"type":"Departures"},{"x":-0.415,"y":2820,"type":"Departures"},{"x":-0.415,"y":3070,"type":"Departures"},
{"x":-0.385,"y":2430,"type":"Departures"},{"x":-0.385,"y":2670,"type":"Departures"},{"x":-0.385,"y":2920,"type":"Departures"},{"x":-0.385,"y":3170,"type":"Departures"},
{"x":-0.355,"y":2380,"type":"Departures"},{"x":-0.355,"y":2630,"type":"Departures"},{"x":-0.355,"y":2870,"type":"Departures"},{"x":-0.355,"y":3120,"type":"Departures"},
{"x":-0.325,"y":2470,"type":"Departures"},{"x":-0.325,"y":2720,"type":"Departures"},{"x":-0.325,"y":2980,"type":"Departures"},
{"x":-0.295,"y":2330,"type":"Departures"},{"x":-0.295,"y":2580,"type":"Departures"},{"x":-0.295,"y":2830,"type":"Departures"},{"x":-0.295,"y":3080,"type":"Departures"},
{"x":-0.265,"y":2420,"type":"Departures"},{"x":-0.265,"y":2680,"type":"Departures"},{"x":-0.265,"y":2930,"type":"Departures"},
{"x":-0.235,"y":2370,"type":"Departures"},{"x":-0.235,"y":2620,"type":"Departures"},{"x":-0.235,"y":2880,"type":"Departures"},{"x":-0.235,"y":3130,"type":"Departures"},
{"x":-0.205,"y":2480,"type":"Departures"},{"x":-0.205,"y":2730,"type":"Departures"},{"x":-0.205,"y":2970,"type":"Departures"},
{"x":-0.175,"y":2320,"type":"Departures"},{"x":-0.175,"y":2570,"type":"Departures"},{"x":-0.175,"y":2820,"type":"Departures"},
{"x":-0.145,"y":2430,"type":"Departures"},{"x":-0.145,"y":2670,"type":"Departures"},{"x":-0.145,"y":2920,"type":"Departures"},
{"x":-0.085,"y":2380,"type":"Departures"},{"x":-0.085,"y":2630,"type":"Departures"},{"x":-0.085,"y":2870,"type":"Departures"},
{"x":-0.025,"y":2470,"type":"Departures"},{"x":-0.025,"y":2720,"type":"Departures"},{"x":-0.025,"y":2980,"type":"Departures"},
{"x":0.035,"y":2420,"type":"Departures"},{"x":0.035,"y":2680,"type":"Departures"},{"x":0.035,"y":2930,"type":"Departures"},
{"x":0.095,"y":2370,"type":"Departures"},{"x":0.095,"y":2620,"type":"Departures"},{"x":0.095,"y":2880,"type":"Departures"},
{"x":0.155,"y":2480,"type":"Departures"},{"x":0.155,"y":2730,"type":"Departures"},{"x":0.155,"y":2970,"type":"Departures"},
{"x":0.215,"y":2320,"type":"Departures"},{"x":0.215,"y":2570,"type":"Departures"},{"x":0.215,"y":2820,"type":"Departures"},
{"x":0.275,"y":2430,"type":"Departures"},{"x":0.275,"y":2670,"type":"Departures"},{"x":0.275,"y":2920,"type":"Departures"},
{"x":0.335,"y":2380,"type":"Departures"},{"x":0.335,"y":2630,"type":"Departures"},{"x":0.335,"y":2870,"type":"Departures"},
{"x":0.395,"y":2470,"type":"Departures"},{"x":0.395,"y":2720,"type":"Departures"},
{"x":0.455,"y":2420,"type":"Departures"},{"x":0.455,"y":2680,"type":"Departures"},
{"x":0.515,"y":2370,"type":"Departures"},{"x":0.515,"y":2620,"type":"Departures"},
{"x":2.24,"y":2200,"type":"Departures"},{"x":2.24,"y":2500,"type":"Departures"},{"x":2.24,"y":2800,"type":"Departures"},{"x":2.24,"y":3100,"type":"Departures"},{"x":2.24,"y":3500,"type":"Departures"},
{"x":2.27,"y":1950,"type":"Departures"},{"x":2.27,"y":2300,"type":"Departures"},{"x":2.27,"y":2600,"type":"Departures"},{"x":2.27,"y":2900,"type":"Departures"},{"x":2.27,"y":3200,"type":"Departures"},{"x":2.27,"y":3600,"type":"Departures"},
{"x":2.30,"y":2100,"type":"Departures"},{"x":2.30,"y":2400,"type":"Departures"},{"x":2.30,"y":2700,"type":"Departures"},{"x":2.30,"y":3000,"type":"Departures"},{"x":2.30,"y":3300,"type":"Departures"},{"x":2.30,"y":3750,"type":"Departures"},{"x":2.30,"y":2550,"type":"Departures"},
{"x":2.33,"y":2000,"type":"Departures"},{"x":2.33,"y":2250,"type":"Departures"},{"x":2.33,"y":2550,"type":"Departures"},{"x":2.33,"y":2850,"type":"Departures"},{"x":2.33,"y":3150,"type":"Departures"},{"x":2.33,"y":3450,"type":"Departures"},{"x":2.33,"y":3900,"type":"Departures"},
{"x":2.36,"y":2150,"type":"Departures"},{"x":2.36,"y":2400,"type":"Departures"},{"x":2.36,"y":2700,"type":"Departures"},{"x":2.36,"y":3000,"type":"Departures"},{"x":2.36,"y":3300,"type":"Departures"},{"x":2.36,"y":3650,"type":"Departures"},{"x":2.36,"y":2850,"type":"Departures"},
{"x":2.39,"y":2050,"type":"Departures"},{"x":2.39,"y":2300,"type":"Departures"},{"x":2.39,"y":2600,"type":"Departures"},{"x":2.39,"y":2900,"type":"Departures"},{"x":2.39,"y":3200,"type":"Departures"},{"x":2.39,"y":3500,"type":"Departures"},{"x":2.39,"y":4050,"type":"Departures"},
{"x":2.42,"y":2200,"type":"Departures"},{"x":2.42,"y":2450,"type":"Departures"},{"x":2.42,"y":2750,"type":"Departures"},{"x":2.42,"y":3050,"type":"Departures"},{"x":2.42,"y":3350,"type":"Departures"},{"x":2.42,"y":3750,"type":"Departures"},{"x":2.42,"y":2600,"type":"Departures"},
{"x":2.45,"y":2100,"type":"Departures"},{"x":2.45,"y":2350,"type":"Departures"},{"x":2.45,"y":2650,"type":"Departures"},{"x":2.45,"y":2950,"type":"Departures"},{"x":2.45,"y":3250,"type":"Departures"},{"x":2.45,"y":3550,"type":"Departures"},{"x":2.45,"y":4200,"type":"Departures"},
{"x":2.48,"y":2250,"type":"Departures"},{"x":2.48,"y":2500,"type":"Departures"},{"x":2.48,"y":2800,"type":"Departures"},{"x":2.48,"y":3100,"type":"Departures"},{"x":2.48,"y":3400,"type":"Departures"},{"x":2.48,"y":3800,"type":"Departures"},{"x":2.48,"y":4350,"type":"Departures"},
{"x":2.50,"y":2150,"type":"Departures"},{"x":2.50,"y":2450,"type":"Departures"},{"x":2.50,"y":2700,"type":"Departures"},{"x":2.50,"y":3000,"type":"Departures"},{"x":2.50,"y":3300,"type":"Departures"},{"x":2.50,"y":3650,"type":"Departures"},{"x":2.50,"y":4000,"type":"Departures"},
{"x":2.315,"y":2480,"type":"Departures"},{"x":2.315,"y":2720,"type":"Departures"},{"x":2.315,"y":2970,"type":"Departures"},{"x":2.315,"y":3230,"type":"Departures"},{"x":2.315,"y":3480,"type":"Departures"},
{"x":2.345,"y":2430,"type":"Departures"},{"x":2.345,"y":2680,"type":"Departures"},{"x":2.345,"y":2930,"type":"Departures"},{"x":2.345,"y":3180,"type":"Departures"},{"x":2.345,"y":3520,"type":"Departures"},
{"x":2.375,"y":2470,"type":"Departures"},{"x":2.375,"y":2730,"type":"Departures"},{"x":2.375,"y":2980,"type":"Departures"},{"x":2.375,"y":3230,"type":"Departures"},{"x":2.375,"y":3480,"type":"Departures"},
{"x":2.405,"y":2420,"type":"Departures"},{"x":2.405,"y":2670,"type":"Departures"},{"x":2.405,"y":2920,"type":"Departures"},{"x":2.405,"y":3170,"type":"Departures"},{"x":2.405,"y":3570,"type":"Departures"},
{"x":2.435,"y":2480,"type":"Departures"},{"x":2.435,"y":2720,"type":"Departures"},{"x":2.435,"y":2970,"type":"Departures"},{"x":2.435,"y":3230,"type":"Departures"},{"x":2.435,"y":3880,"type":"Departures"},
{"x":2.465,"y":2430,"type":"Departures"},{"x":2.465,"y":2680,"type":"Departures"},{"x":2.465,"y":2930,"type":"Departures"},{"x":2.465,"y":3180,"type":"Departures"},{"x":2.465,"y":3620,"type":"Departures"},
{"x":2.495,"y":2470,"type":"Departures"},{"x":2.495,"y":2730,"type":"Departures"},{"x":2.495,"y":2980,"type":"Departures"},{"x":2.495,"y":3230,"type":"Departures"},{"x":2.495,"y":4200,"type":"Departures"},

{"x":-2.46,"y":2950,"type":"Overflights"},{"x":0.37,"y":7140,"type":"Overflights"},

{"x":-1.88,"y":1550,"type":"Touch and Go"},{"x":-1.84,"y":1390,"type":"Touch and Go"},{"x":-1.91,"y":1240,"type":"Touch and Go"},{"x":-1.63,"y":1330,"type":"Touch and Go"},{"x":-1.07,"y":1470,"type":"Touch and Go"},{"x":-0.78,"y":2770,"type":"Touch and Go"},{"x":0.56,"y":2630,"type":"Touch and Go"},{"x":1.09,"y":2900,"type":"Touch and Go"},{"x":1.16,"y":2650,"type":"Touch and Go"},{"x":0.95,"y":2400,"type":"Touch and Go"},
{"x":1.24,"y":2950,"type":"Touch and Go"},{"x":1.30,"y":2870,"type":"Touch and Go"},{"x":1.59,"y":2220,"type":"Touch and Go"},{"x":1.43,"y":1600,"type":"Touch and Go"},{"x":1.67,"y":1040,"type":"Touch and Go"},{"x":1.85,"y":3150,"type":"Touch and Go"},{"x":2.01,"y":2720,"type":"Touch and Go"},{"x":1.92,"y":1040,"type":"Touch and Go"},{"x":2.44,"y":3100,"type":"Touch and Go"},{"x":2.50,"y":2950,"type":"Touch and Go"},
{"x":-0.21,"y":1140,"type":"Touch and Go"},{"x":-0.17,"y":950,"type":"Touch and Go"},{"x":-0.17,"y":1150,"type":"Touch and Go"},{"x":-0.14,"y":800,"type":"Touch and Go"},{"x":-0.14,"y":1050,"type":"Touch and Go"},{"x":-0.10,"y":900,"type":"Touch and Go"},{"x":-0.10,"y":1100,"type":"Touch and Go"},{"x":-0.10,"y":750,"type":"Touch and Go"},{"x":-0.06,"y":1000,"type":"Touch and Go"},{"x":-0.06,"y":1200,"type":"Touch and Go"},
{"x":-0.06,"y":850,"type":"Touch and Go"},{"x":-0.02,"y":900,"type":"Touch and Go"},{"x":-0.02,"y":1100,"type":"Touch and Go"},{"x":-0.02,"y":700,"type":"Touch and Go"},{"x":0.02,"y":1000,"type":"Touch and Go"},{"x":0.02,"y":1200,"type":"Touch and Go"},{"x":0.02,"y":850,"type":"Touch and Go"},{"x":0.06,"y":950,"type":"Touch and Go"},{"x":0.06,"y":1150,"type":"Touch and Go"},{"x":0.06,"y":800,"type":"Touch and Go"},
{"x":0.10,"y":1050,"type":"Touch and Go"},{"x":0.10,"y":1250,"type":"Touch and Go"},{"x":0.10,"y":900,"type":"Touch and Go"},{"x":0.14,"y":1000,"type":"Touch and Go"},{"x":0.14,"y":1200,"type":"Touch and Go"},{"x":0.14,"y":850,"type":"Touch and Go"},{"x":0.18,"y":950,"type":"Touch and Go"},{"x":0.18,"y":1150,"type":"Touch and Go"},{"x":0.18,"y":800,"type":"Touch and Go"},{"x":0.18,"y":1300,"type":"Touch and Go"},
{"x":0.22,"y":1050,"type":"Touch and Go"},{"x":0.22,"y":1250,"type":"Touch and Go"},{"x":0.22,"y":900,"type":"Touch and Go"},{"x":0.26,"y":1000,"type":"Touch and Go"},{"x":0.26,"y":1150,"type":"Touch and Go"},{"x":0.26,"y":800,"type":"Touch and Go"},{"x":0.30,"y":950,"type":"Touch and Go"},{"x":0.30,"y":1100,"type":"Touch and Go"},{"x":0.30,"y":850,"type":"Touch and Go"},{"x":0.30,"y":1250,"type":"Touch and Go"},
{"x":0.34,"y":1050,"type":"Touch and Go"},{"x":0.34,"y":1200,"type":"Touch and Go"},{"x":0.34,"y":900,"type":"Touch and Go"},{"x":0.38,"y":1000,"type":"Touch and Go"},{"x":0.38,"y":1150,"type":"Touch and Go"},{"x":0.38,"y":800,"type":"Touch and Go"},{"x":0.42,"y":950,"type":"Touch and Go"},{"x":0.42,"y":1100,"type":"Touch and Go"},{"x":0.42,"y":850,"type":"Touch and Go"},{"x":0.42,"y":1250,"type":"Touch and Go"},
{"x":0.46,"y":1050,"type":"Touch and Go"},{"x":0.46,"y":1200,"type":"Touch and Go"},{"x":0.46,"y":900,"type":"Touch and Go"},{"x":0.50,"y":1000,"type":"Touch and Go"},{"x":0.50,"y":1150,"type":"Touch and Go"},{"x":0.50,"y":800,"type":"Touch and Go"},{"x":0.54,"y":950,"type":"Touch and Go"},{"x":0.54,"y":1100,"type":"Touch and Go"},{"x":0.54,"y":850,"type":"Touch and Go"},{"x":0.58,"y":1000,"type":"Touch and Go"},
{"x":0.58,"y":1150,"type":"Touch and Go"},{"x":0.58,"y":800,"type":"Touch and Go"},{"x":0.62,"y":950,"type":"Touch and Go"},{"x":0.62,"y":850,"type":"Touch and Go"},{"x":0.66,"y":900,"type":"Touch and Go"},
{"x":0.00,"y":930,"type":"Touch and Go"},{"x":0.04,"y":1070,"type":"Touch and Go"},{"x":0.08,"y":980,"type":"Touch and Go"},{"x":0.12,"y":1120,"type":"Touch and Go"},{"x":0.16,"y":1030,"type":"Touch and Go"},{"x":0.20,"y":1080,"type":"Touch and Go"},{"x":0.24,"y":960,"type":"Touch and Go"},{"x":0.28,"y":1040,"type":"Touch and Go"},{"x":0.32,"y":990,"type":"Touch and Go"},{"x":0.36,"y":1110,"type":"Touch and Go"},
{"x":0.40,"y":920,"type":"Touch and Go"},{"x":0.44,"y":1030,"type":"Touch and Go"},{"x":0.48,"y":960,"type":"Touch and Go"},{"x":0.52,"y":1060,"type":"Touch and Go"},{"x":0.56,"y":980,"type":"Touch and Go"},{"x":0.60,"y":1040,"type":"Touch and Go"},
{"x":2.20,"y":950,"type":"Touch and Go"},{"x":2.20,"y":1150,"type":"Touch and Go"},{"x":2.23,"y":850,"type":"Touch and Go"},{"x":2.23,"y":1050,"type":"Touch and Go"},{"x":2.23,"y":1250,"type":"Touch and Go"},{"x":2.26,"y":950,"type":"Touch and Go"},{"x":2.26,"y":1150,"type":"Touch and Go"},{"x":2.26,"y":800,"type":"Touch and Go"},{"x":2.29,"y":1050,"type":"Touch and Go"},{"x":2.29,"y":1250,"type":"Touch and Go"},
{"x":2.29,"y":900,"type":"Touch and Go"},{"x":2.32,"y":850,"type":"Touch and Go"},{"x":2.32,"y":1000,"type":"Touch and Go"},{"x":2.32,"y":1200,"type":"Touch and Go"},{"x":2.35,"y":950,"type":"Touch and Go"},{"x":2.35,"y":1100,"type":"Touch and Go"},{"x":2.35,"y":800,"type":"Touch and Go"},{"x":2.38,"y":1050,"type":"Touch and Go"},{"x":2.38,"y":1250,"type":"Touch and Go"},{"x":2.38,"y":900,"type":"Touch and Go"},
{"x":2.41,"y":850,"type":"Touch and Go"},{"x":2.41,"y":1000,"type":"Touch and Go"},{"x":2.41,"y":1150,"type":"Touch and Go"},{"x":2.44,"y":950,"type":"Touch and Go"},{"x":2.44,"y":1100,"type":"Touch and Go"},{"x":2.44,"y":800,"type":"Touch and Go"},{"x":2.47,"y":1050,"type":"Touch and Go"},{"x":2.47,"y":1200,"type":"Touch and Go"},{"x":2.47,"y":900,"type":"Touch and Go"},{"x":2.50,"y":950,"type":"Touch and Go"},
{"x":2.50,"y":1100,"type":"Touch and Go"},{"x":2.245,"y":1000,"type":"Touch and Go"},{"x":2.275,"y":1080,"type":"Touch and Go"},{"x":2.305,"y":960,"type":"Touch and Go"},{"x":2.335,"y":1060,"type":"Touch and Go"},{"x":2.365,"y":980,"type":"Touch and Go"},{"x":2.395,"y":1100,"type":"Touch and Go"},{"x":2.425,"y":940,"type":"Touch and Go"},{"x":2.455,"y":1020,"type":"Touch and Go"},{"x":2.485,"y":980,"type":"Touch and Go"}
]},
"layer": [
{"mark": {"type": "point", "filled": false, "size": 180, "strokeWidth": 1.5, "opacity": 1, "clip": true},
 "encoding": {
  "x": {"field": "x", "type": "quantitative", "scale": {"domain": [-2.5, 2.5], "nice": false, "zero": false},
        "axis": {"title": "Deviation From Center Of NMT (Kilometers)", "values": [-2.5,-2.375,-2.25,-2.125,-2,-1.875,-1.75,-1.625,-1.5,-1.375,-1.25,-1.125,-1,-0.875,-0.75,-0.625,-0.5,-0.375,-0.25,-0.125,0,0.125,0.25,0.375,0.5,0.625,0.75,0.875,1,1.125,1.25,1.375,1.5,1.625,1.75,1.875,2,2.125,2.25,2.375,2.5],
                 "labelExpr": "datum.value*2 === round(datum.value*2) ? '' + datum.value : ''",
                 "gridOpacity": {"condition": {"test": "datum.value*2 === round(datum.value*2)", "value": 1}, "value": 0},
                 "tickSize": 6, "labelPadding": 8, "titlePadding": 4, "labelFlush": false, "labelOverlap": false, "labelBound": false}},
  "y": {"field": "y", "type": "quantitative", "scale": {"domain": [0, 10000], "nice": false},
        "axis": {"title": "Above Airport Elevation (Feet)", "values": [0,200,400,600,800,1000,1200,1400,1600,1800,2000,2200,2400,2600,2800,3000,3200,3400,3600,3800,4000,4200,4400,4600,4800,5000,5200,5400,5600,5800,6000,6200,6400,6600,6800,7000,7200,7400,7600,7800,8000,8200,8400,8600,8800,9000,9200,9400,9600,9800,10000],
                 "labelExpr": "datum.value % 1000 === 0 ? format(datum.value, ',') : ''",
                 "gridOpacity": {"condition": {"test": "datum.value % 1000 === 0", "value": 1}, "value": 0},
                 "tickSize": 7, "labelPadding": 9, "titlePadding": 9, "labelFlush": false, "labelOverlap": false, "labelBound": false}},
  "color": {"field": "type", "type": "nominal",
            "scale": {"domain": ["Arrivals", "Departures", "Overflights", "Touch and Go"], "range": ["#ff0000", "#008000", "#0000ff", "#8a2590"]},
            "legend": {"title": null, "orient": "none", "legendX": 175, "legendY": 405, "direction": "horizontal", "columns": 4, "gridAlign": "all", "columnPadding": 8, "padding": 3, "strokeColor": "black", "fillColor": "white", "symbolSize": 150, "symbolStrokeWidth": 1.5, "symbolOffset": 10, "labelOffset": 14, "labelFontSize": 16, "labelFont": "Liberation Sans", "labelColor": "black", "zindex": 1}},
  "shape": {"field": "type", "type": "nominal",
            "scale": {"domain": ["Arrivals", "Departures", "Overflights", "Touch and Go"], "range": ["triangle-up", "circle", "square", "diamond"]},
            "legend": {"title": null, "orient": "none", "legendX": 175, "legendY": 405, "direction": "horizontal", "columns": 4, "gridAlign": "all", "columnPadding": 8, "padding": 3, "strokeColor": "black", "fillColor": "white", "symbolSize": 150, "symbolStrokeWidth": 1.5, "symbolOffset": 10, "labelOffset": 14, "labelFontSize": 16, "labelFont": "Liberation Sans", "labelColor": "black", "zindex": 1}}
 }},
{"mark": {"type": "point", "opacity": 0},
 "encoding": {
  "color": {"field": "type", "type": "nominal",
            "legend": {"title": null, "orient": "none", "legendX": 181, "legendY": 411, "direction": "horizontal", "columns": 4, "gridAlign": "all", "columnPadding": 8, "padding": 3, "strokeColor": "black", "fillColor": "black", "symbolSize": 150, "symbolStrokeWidth": 1.5, "symbolOpacity": 0, "symbolOffset": 124, "labelOffset": 0, "labelExpr": "''", "labelFontSize": 16, "labelFont": "Liberation Sans", "labelColor": "black", "zindex": 0}}
 }}
],
"resolve": {"legend": {"color": "independent", "shape": "independent"}},
"config": {
  "view": {"stroke": "#333333", "strokeWidth": 1.5},
  "axis": {"labelFont": "Liberation Sans", "labelFontSize": 16, "labelColor": "black", "titleFont": "Liberation Sans", "titleFontSize": 16, "titleFontWeight": "normal", "titleColor": "black",
           "domainColor": "black", "domainWidth": 3, "tickColor": "black", "tickWidth": 1,
           "grid": true, "gridColor": "#9a9a9a", "gridDash": [1, 2], "gridWidth": 1}
}
}
